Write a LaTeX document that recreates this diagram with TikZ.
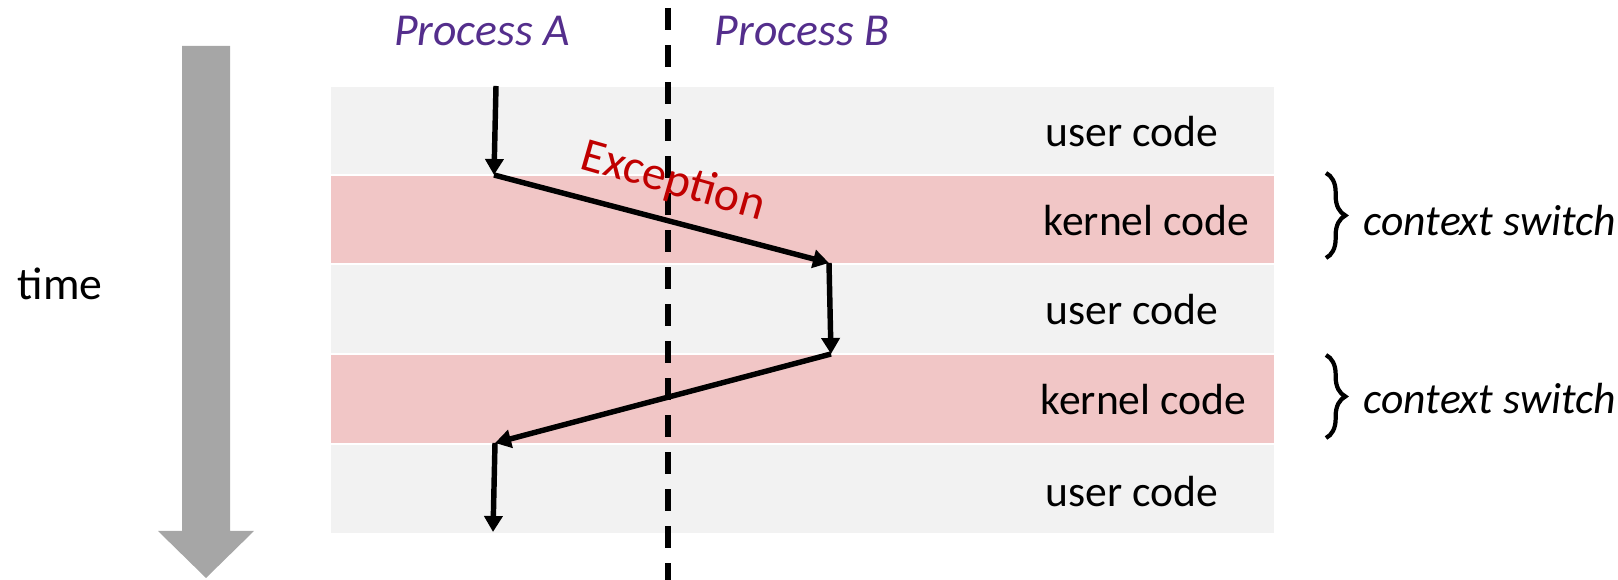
\documentclass[tikz,border=0pt]{standalone}
\usepackage{fontspec}
\setmainfont{Carlito}
\usepackage{tikz}
\usetikzlibrary{arrows.meta,positioning,decorations.pathreplacing}
\definecolor{bandgray}{RGB}{242,242,242}
\definecolor{bandpink}{RGB}{241,198,198}
\definecolor{timegray}{RGB}{166,166,166}
\definecolor{procpurple}{RGB}{84,46,140}
\definecolor{excred}{RGB}{192,0,0}

\begin{document}
\begin{tikzpicture}[
    x=0.01cm, y=-0.01cm,
    userband/.style={rectangle, fill=bandgray, draw=white, line width=0.5pt, minimum width=9.45cm, minimum height=0.89cm, inner sep=0pt},
    kernelband/.style={userband, fill=bandpink},
    bandtext/.style={anchor=west, inner sep=0pt, font=\fontsize{12.4}{14}\selectfont},
    proclabel/.style={text=procpurple, font=\fontsize{13}{15}\selectfont\itshape},
    switchlabel/.style={anchor=west, inner sep=0pt, font=\fontsize{12.4}{14}\selectfont\itshape},
    arrow/.style={-{Triangle[length=1.6mm, width=1.8mm]}, line width=1.55pt},
    bracket/.style={decorate, decoration={brace, amplitude=5.5pt}, line width=1.2pt}
]
    \useasboundingbox (0,0) rectangle (1618,580);

    % time arrow
    \fill[timegray] (182,46) -- (230,46) -- (230,531) -- (254,531) -- (206,578) -- (158,531) -- (182,531) -- cycle;
    \node[font=\fontsize{13}{15}\selectfont] (time) at (60,284) {time};

    % bands
    \node[userband] (user1) at (802.5,130.5) {};
    \node[kernelband] (kern1) at (802.5,219.5) {};
    \node[userband] (user2) at (802.5,309) {};
    \node[kernelband] (kern2) at (802.5,399) {};
    \node[userband] (user3) at (802.5,489) {};

    \node[bandtext] (utext1) at (1045,132) {user code};
    \node[bandtext] (ktext1) at (1043,221) {kernel code};
    \node[bandtext] (utext2) at (1045,310) {user code};
    \node[bandtext] (ktext2) at (1040,400) {kernel code};
    \node[bandtext] (utext3) at (1045,492) {user code};

    % process split
    \coordinate (splittop) at (668,8);
    \coordinate (splitbot) at (668,580);
    \draw[line width=1.5pt, dash pattern=on 0.22cm off 0.15cm] (splittop) -- (splitbot);

    \node[proclabel] (procA) at (482,31) {Process A};
    \node[proclabel] (procB) at (802,31) {Process B};

    % control flow
    \coordinate (pA1) at (496,86);
    \coordinate (pA2) at (494,175);
    \coordinate (pB1) at (829,263);
    \coordinate (pB2) at (831,354);
    \coordinate (pA3) at (495,443);
    \coordinate (pA4) at (493,532);

    \draw[arrow] (pA1) -- (pA2);
    \draw[arrow] (pA2) -- (pB1);
    \draw[arrow] (pB1) -- (pB2);
    \draw[arrow] (pB2) -- (pA3);
    \draw[arrow] (pA3) -- (pA4);

    \node[text=excred, rotate=-16, font=\fontsize{13.6}{16}\selectfont] (exc) at (673,182) {Exception};

    % context switches
    \coordinate (br1top) at (1326,173);
    \coordinate (br1bot) at (1326,258);
    \coordinate (br2top) at (1326,355);
    \coordinate (br2bot) at (1326,438);
    \draw[bracket] (br1top) -- (br1bot);
    \draw[bracket] (br2top) -- (br2bot);
    \node[switchlabel] (cs1) at (1363,221) {context switch};
    \node[switchlabel] (cs2) at (1363,399) {context switch};
\end{tikzpicture}
\end{document}
